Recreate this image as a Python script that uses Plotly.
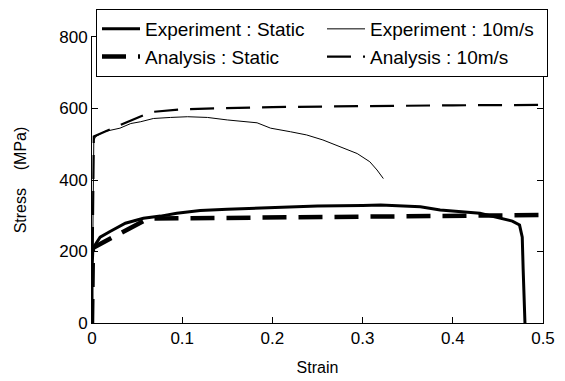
import plotly.graph_objects as go

# Experiment : Static
exp_static_strain = [0.0, 0.0, 0.001, 0.009, 0.02, 0.037, 0.057, 0.076, 0.094, 0.12, 0.15, 0.2, 0.25, 0.3, 0.32, 0.364, 0.386, 0.43, 0.452, 0.466, 0.474, 0.477, 0.478, 0.479, 0.48]
exp_static_stress = [0, 150, 209, 240, 256, 279, 293, 299, 307, 315, 318, 323, 327, 329, 330, 325, 316, 307, 293, 285, 274, 240, 150, 60, 0]

# Experiment : 10m/s
exp_dyn_strain = [0.0, 0.002, 0.004, 0.013, 0.031, 0.043, 0.054, 0.068, 0.087, 0.106, 0.128, 0.15, 0.183, 0.198, 0.22, 0.238, 0.256, 0.275, 0.294, 0.308, 0.316, 0.323]
exp_dyn_stress = [0, 511, 521, 535, 545, 558, 563, 572, 575, 577, 575, 568, 560, 545, 535, 526, 512, 493, 474, 451, 428, 404]

# Analysis : Static
ana_static_strain = [0.0, 0.001, 0.062, 0.2, 0.4, 0.5]
ana_static_stress = [0, 210, 292, 296, 300, 302]

# Analysis : 10m/s
ana_dyn_strain = [0.0, 0.002, 0.065, 0.1, 0.2, 0.3, 0.4, 0.5]
ana_dyn_stress = [0, 522, 590, 598, 604, 607, 609, 610]

x_ticks = [0, 0.1, 0.2, 0.3, 0.4, 0.5]
x_tick_labels = ["0", "0.1", "0.2", "0.3", "0.4", "0.5"]
y_ticks = [0, 200, 400, 600, 800]
y_tick_labels = ["0", "200", "400", "600", "800"]

FONT = "Liberation Sans, Arial, sans-serif"

fig = go.Figure()
fig.add_trace(go.Scatter(x=exp_static_strain, y=exp_static_stress, mode="lines",
                         name="Experiment : Static",
                         line=dict(color="black", width=3)))
fig.add_trace(go.Scatter(x=exp_dyn_strain, y=exp_dyn_stress, mode="lines",
                         name="Experiment : 10m/s",
                         line=dict(color="black", width=1)))
fig.add_trace(go.Scatter(x=ana_static_strain, y=ana_static_stress, mode="lines",
                         name="Analysis : Static",
                         line=dict(color="black", width=4.5, dash="24px,12px")))
fig.add_trace(go.Scatter(x=ana_dyn_strain, y=ana_dyn_stress, mode="lines",
                         name="Analysis : 10m/s",
                         line=dict(color="black", width=2.2, dash="24px,12px")))

fig.update_layout(
    width=565, height=381,
    margin=dict(l=92, r=22, t=37, b=58, autoexpand=False),
    paper_bgcolor="white", plot_bgcolor="white",
    font=dict(family=FONT, size=17, color="black"),
    showlegend=True,
    legend=dict(
        orientation="h",
        xref="container", x=96 / 565, xanchor="left",
        yref="container", y=1 - 9 / 381, yanchor="top",
        bgcolor="white", bordercolor="black", borderwidth=1,
        font=dict(family=FONT, size=19, color="black"),
        itemwidth=38,
        entrywidth=172, entrywidthmode="pixels",
        traceorder="normal",
    ),
    xaxis=dict(
        range=[0, 0.5], tickmode="array", tickvals=x_ticks, ticktext=x_tick_labels,
        ticks="inside", ticklen=6, tickcolor="black", showline=True, linecolor="black",
        linewidth=1, mirror="ticks", showgrid=False, zeroline=False, automargin=False,
        title=dict(text="Strain", font=dict(size=16), standoff=14),
        tickfont=dict(size=17),
    ),
    yaxis=dict(
        range=[0, 800], tickmode="array", tickvals=y_ticks, ticktext=y_tick_labels,
        ticks="inside", ticklen=6, tickcolor="black", showline=True, linecolor="black",
        linewidth=1, mirror="ticks", showgrid=False, zeroline=False, automargin=False,
        title=dict(text="Stress\u00a0\u00a0\u00a0\u00a0(MPa)", font=dict(size=16), standoff=28),
        tickfont=dict(size=17),
    ),
)

fig.write_html("out.html")
